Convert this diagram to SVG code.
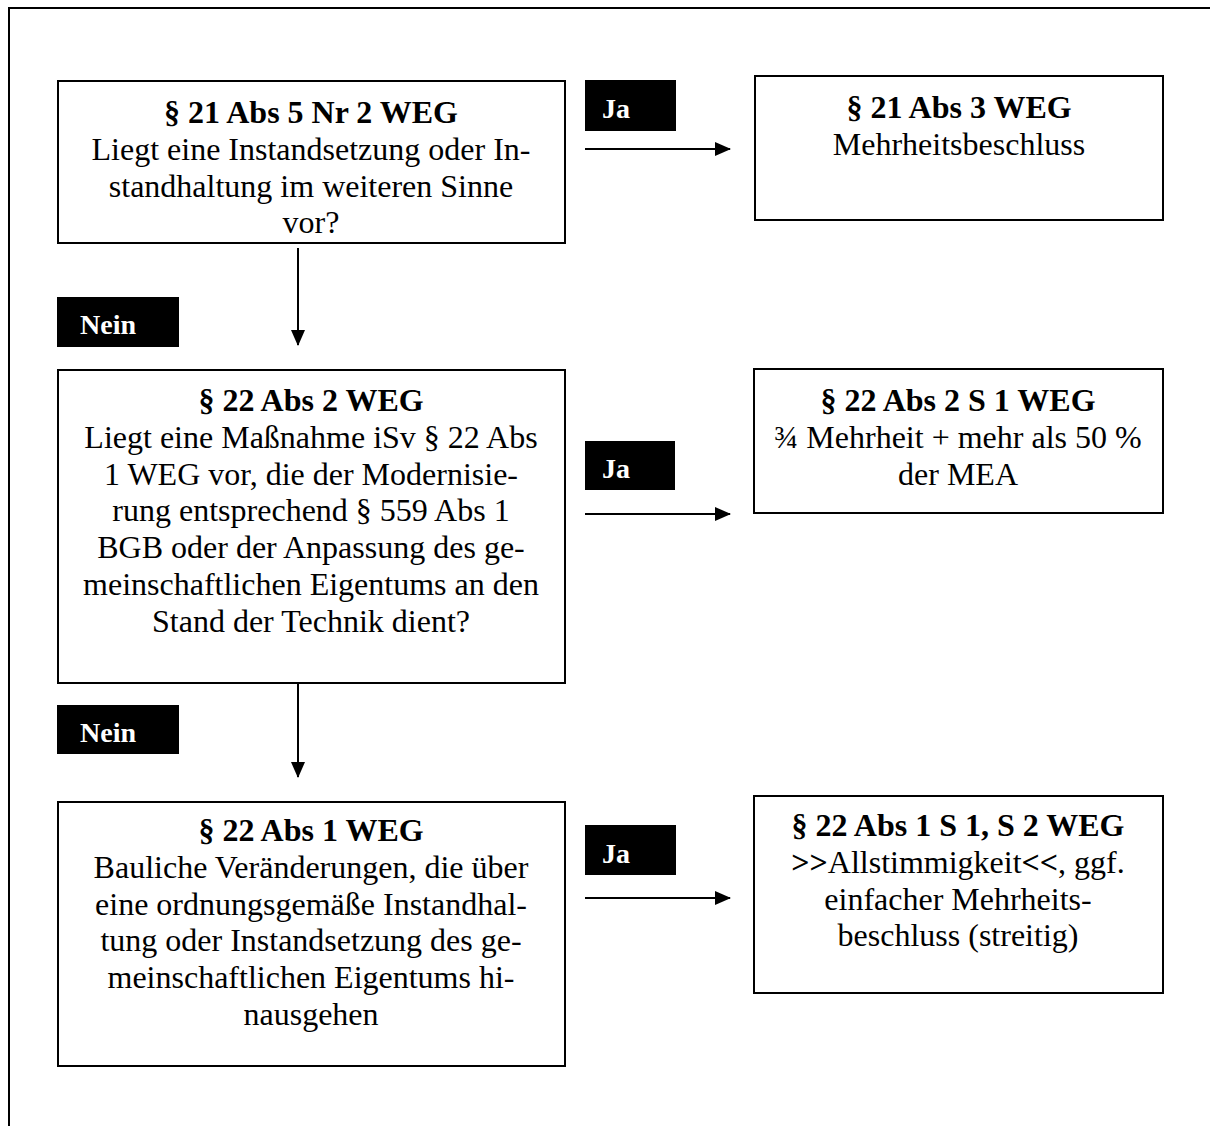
<svg xmlns="http://www.w3.org/2000/svg" width="1210" height="1126" viewBox="0 0 1210 1126">
<style>
.box{fill:#fff;stroke:#000;stroke-width:2}
.lbl{fill:#000}
.lt{font-family:"Liberation Serif","Times New Roman",serif;font-size:28px;font-weight:bold;fill:#fff}
.t{font-family:"Liberation Serif","Times New Roman",serif;font-size:32px;fill:#000;text-anchor:middle}
.b{font-weight:bold}
.ln{stroke:#000;stroke-width:2;fill:none}
</style>
<defs>
<marker id="ah" markerWidth="16" markerHeight="14" refX="15" refY="7" orient="auto" markerUnits="userSpaceOnUse">
<path d="M0,0 L16,7 L0,14 Z" fill="#000"/>
</marker>
</defs>
<rect width="1210" height="1126" fill="#fff"/>
<g id="frame">
<path class="ln" d="M9,1126 V8 H1210"/>
</g>
<g id="connectors">
<line class="ln" x1="585" y1="149" x2="730" y2="149" marker-end="url(#ah)"/>
<line class="ln" x1="585" y1="514" x2="730" y2="514" marker-end="url(#ah)"/>
<line class="ln" x1="585" y1="898" x2="730" y2="898" marker-end="url(#ah)"/>
<line class="ln" x1="298" y1="248" x2="298" y2="345" marker-end="url(#ah)"/>
<line class="ln" x1="298" y1="683" x2="298" y2="777" marker-end="url(#ah)"/>
</g>
<g id="label-ja1"><rect class="lbl" x="585" y="80" width="91" height="51"/><text class="lt" x="602" y="118">Ja</text></g>
<g id="label-ja2"><rect class="lbl" x="585" y="441" width="90" height="49"/><text class="lt" x="602" y="478">Ja</text></g>
<g id="label-ja3"><rect class="lbl" x="585" y="825" width="91" height="50"/><text class="lt" x="602" y="863">Ja</text></g>
<g id="label-nein1"><rect class="lbl" x="57" y="297" width="122" height="50"/><text class="lt" x="80" y="334">Nein</text></g>
<g id="label-nein2"><rect class="lbl" x="57" y="705" width="122" height="49"/><text class="lt" x="80" y="742">Nein</text></g>
<g id="node-21-5-2">
<rect class="box" x="58" y="81" width="507" height="162"/>
<text class="t" x="311" y="123"><tspan class="b">§ 21 Abs 5 Nr 2 WEG</tspan><tspan x="311" dy="36.8">Liegt eine Instandsetzung oder In-</tspan><tspan x="311" dy="36.8">standhaltung im weiteren Sinne</tspan><tspan x="311" dy="36.8">vor?</tspan></text>
</g>
<g id="node-21-3">
<rect class="box" x="755" y="76" width="408" height="144"/>
<text class="t" x="959" y="118"><tspan class="b">§ 21 Abs 3 WEG</tspan><tspan x="959" dy="36.8">Mehrheitsbeschluss</tspan></text>
</g>
<g id="node-22-2">
<rect class="box" x="58" y="370" width="507" height="313"/>
<text class="t" x="311" y="411"><tspan class="b">§ 22 Abs 2 WEG</tspan><tspan x="311" dy="36.8">Liegt eine Maßnahme iSv § 22 Abs</tspan><tspan x="311" dy="36.8">1 WEG vor, die der Modernisie-</tspan><tspan x="311" dy="36.8">rung entsprechend § 559 Abs 1</tspan><tspan x="311" dy="36.8">BGB oder der Anpassung des ge-</tspan><tspan x="311" dy="36.8">meinschaftlichen Eigentums an den</tspan><tspan x="311" dy="36.8">Stand der Technik dient?</tspan></text>
</g>
<g id="node-22-2-1">
<rect class="box" x="754" y="369" width="409" height="144"/>
<text class="t" x="958" y="411"><tspan class="b">§ 22 Abs 2 S 1 WEG</tspan><tspan x="958" dy="36.8">¾ Mehrheit + mehr als 50 %</tspan><tspan x="958" dy="36.8">der MEA</tspan></text>
</g>
<g id="node-22-1">
<rect class="box" x="58" y="802" width="507" height="264"/>
<text class="t" x="311" y="841"><tspan class="b">§ 22 Abs 1 WEG</tspan><tspan x="311" dy="36.8">Bauliche Veränderungen, die über</tspan><tspan x="311" dy="36.8">eine ordnungsgemäße Instandhal-</tspan><tspan x="311" dy="36.8">tung oder Instandsetzung des ge-</tspan><tspan x="311" dy="36.8">meinschaftlichen Eigentums hi-</tspan><tspan x="311" dy="36.8">nausgehen</tspan></text>
</g>
<g id="node-22-1-1-2">
<rect class="box" x="754" y="796" width="409" height="197"/>
<text class="t" x="958" y="836"><tspan class="b">§ 22 Abs 1 S 1, S 2 WEG</tspan><tspan x="958" dy="36.8"><tspan class="b">&gt;&gt;</tspan>Allstimmigkeit<tspan class="b">&lt;&lt;</tspan>, ggf.</tspan><tspan x="958" dy="36.8">einfacher Mehrheits-</tspan><tspan x="958" dy="36.8">beschluss (streitig)</tspan></text>
</g>
</svg>
